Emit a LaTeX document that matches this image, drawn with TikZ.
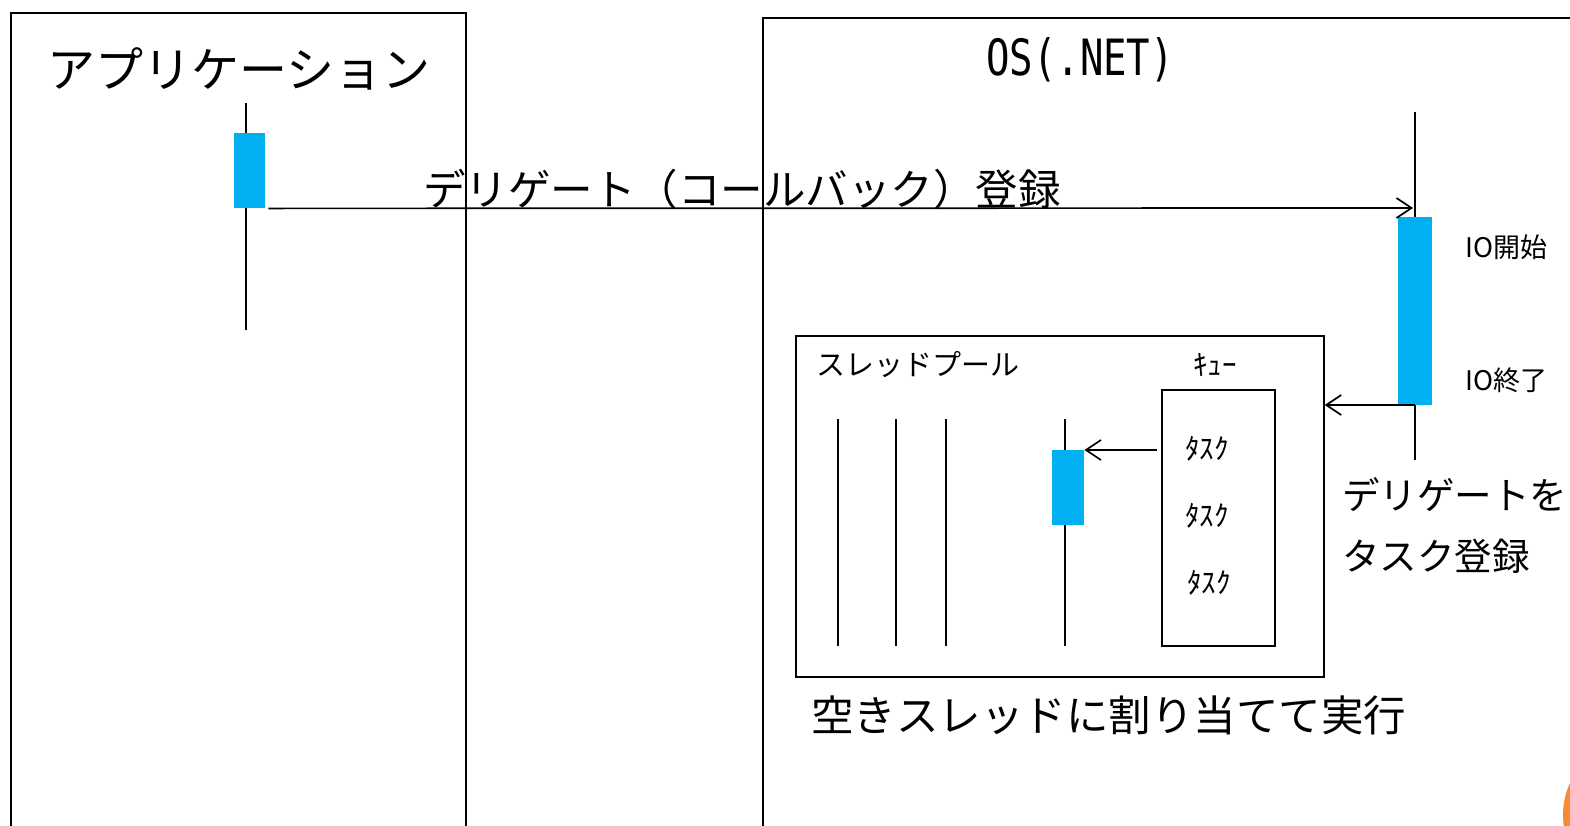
\documentclass[tikz,border=0pt]{standalone}
\usepackage{fontspec}
\usetikzlibrary{arrows.meta}
\newfontfamily\jp{Noto Sans CJK JP}
\newfontfamily\monofam{DejaVu Sans Mono}
\definecolor{actblue}{HTML}{00B0F0}
\definecolor{pageorange}{HTML}{F68B33}
\tikzset{
  frame/.style={draw=black, line width=1.7pt, inner sep=0pt, anchor=north west},
  act/.style={fill=actblue, draw=none, inner sep=0pt, anchor=north west},
  life/.style={draw=black, line width=1.7pt},
  msg/.style={draw=black, line width=1.7pt, -{Straight Barb[length=15pt,width=20pt,line width=1.7pt]}},
  lbl/.style={inner sep=0pt, font=\jp},
}
\begin{document}
\begin{tikzpicture}[x=1pt,y=-1pt]
\useasboundingbox (0,0) rectangle (1570,825);
\clip (0,0) rectangle (1570,825);
\fill[white] (0,0) rectangle (1570,825);

% frames
\node[frame, minimum width=455pt, minimum height=840pt] (appbox) at (10,12) {};
\node[frame, minimum width=860pt, minimum height=840pt] (osbox) at (762,17) {};
\node[frame, minimum width=528pt, minimum height=341pt] (pool) at (795,335) {};
\node[frame, minimum width=113pt, minimum height=256pt] (queue) at (1161,389) {};

% lifelines
\coordinate (appT) at (246,103);
\coordinate (appB) at (246,330);
\coordinate (osT) at (1415,112);
\coordinate (osB) at (1415,460);
\coordinate (t1T) at (838,419); \coordinate (t1B) at (838,646);
\coordinate (t2T) at (896,419); \coordinate (t2B) at (896,646);
\coordinate (t3T) at (946,419); \coordinate (t3B) at (946,646);
\coordinate (t4T) at (1065,419); \coordinate (t4B) at (1065,646);
\draw[life] (appT) -- (appB);
\draw[life] (osT) -- (osB);
\draw[life] (t1T) -- (t1B);
\draw[life] (t2T) -- (t2B);
\draw[life] (t3T) -- (t3B);
\draw[life] (t4T) -- (t4B);

% activations
\node[act, minimum width=31pt, minimum height=75pt] (appact) at (234,133) {};
\node[act, minimum width=34pt, minimum height=188pt] (osact) at (1398,217) {};
\node[act, minimum width=32pt, minimum height=75pt] (tact) at (1052,450) {};

% titles
\node[lbl, font=\jp\fontsize{48}{52}\selectfont] (apptitle) at (239,69) {アプリケーション};
\node[inner sep=0pt, font=\monofam\fontsize{50}{54}\selectfont] (ostitle) at (1080,60) {\scalebox{0.78}[1]{OS(.NET)}};

% messages
\coordinate (regEnd) at (1413,208);
\draw[msg] ([xshift=3pt]appact.south east) -- (regEnd);
\node[lbl, font=\jp\fontsize{42.5}{46}\selectfont] (reglbl) at (742,189) {デリゲート（コールバック）登録};

\node[lbl, font=\jp\fontsize{27}{30}\selectfont, anchor=west] (iostart) at (1465,247) {IO開始};
\node[lbl, font=\jp\fontsize{27}{30}\selectfont, anchor=west] (ioend) at (1465,380) {IO終了};

\coordinate (doneStart) at (1415,405);
\draw[msg] (doneStart) -- (pool.east |- doneStart);

\node[lbl, font=\jp\fontsize{37.5}{40}\selectfont, anchor=west] (dl1) at (1342,495) {デリゲートを};
\node[lbl, font=\jp\fontsize{37.5}{40}\selectfont, anchor=west] (dl2) at (1342,556) {タスク登録};

% pool contents
\node[lbl, font=\jp\fontsize{29}{32}\selectfont, anchor=west] (pooltitle) at (816,365) {スレッドプール};
\node[lbl, font=\jp\fontsize{29}{32}\selectfont] (qtitle) at (1215,365) {ｷｭｰ};
\node[lbl, font=\jp\fontsize{29}{32}\selectfont] (task1) at (1207,449) {ﾀｽｸ};
\node[lbl, font=\jp\fontsize{29}{32}\selectfont] (task2) at (1207,516) {ﾀｽｸ};
\node[lbl, font=\jp\fontsize{29}{32}\selectfont] (task3) at (1209,583) {ﾀｽｸ};
\draw[msg] ([xshift=-4pt]queue.west |- tact.north east) -- (tact.north east);

\node[lbl, font=\jp\fontsize{42.5}{46}\selectfont, anchor=west] (runlbl) at (811,715) {空きスレッドに割り当てて実行};

% page marker
\fill[pageorange] (1640,815) circle (77);
\end{tikzpicture}
\end{document}
